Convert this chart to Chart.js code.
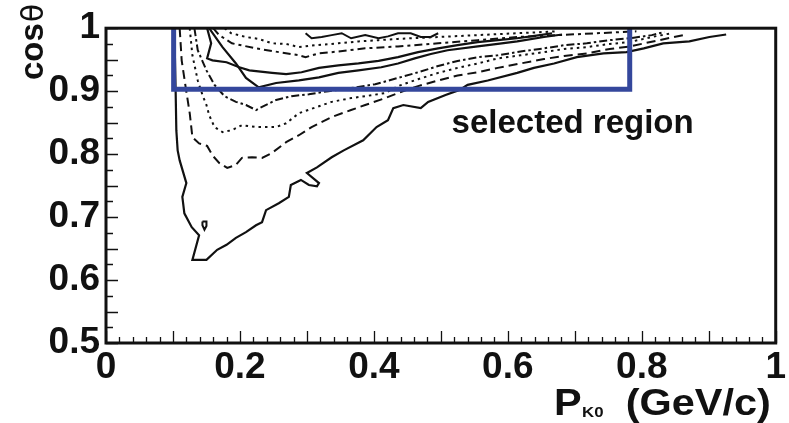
<!DOCTYPE html>
<html>
<head>
<meta charset="utf-8">
<script src="https://cdn.jsdelivr.net/npm/chart.js@4.4.0/dist/chart.umd.min.js"></script>
<style>
    html, body { margin: 0; padding: 0; background: #fff; }
    #wrap { width: 789px; height: 423px; }
</style>
</head>
<body>
<div id="wrap"><canvas id="contourChart" width="789" height="423"></canvas></div>
<script>
// axis ticks
const xTicks = [0, 0.2, 0.4, 0.6, 0.8, 1];
const yTicks = [0.5, 0.6, 0.7, 0.8, 0.9, 1];

// contour lines, [P (GeV/c), cos theta]
const outerSolid = [[0.102,1.000],[0.104,0.900],[0.105,0.838],[0.107,0.806],[0.110,0.790],[0.120,0.754],[0.114,0.732],[0.117,0.706],[0.128,0.684],[0.139,0.671],[0.129,0.632],[0.150,0.632],[0.166,0.648],[0.180,0.656],[0.194,0.667],[0.209,0.676],[0.224,0.687],[0.233,0.692],[0.239,0.711],[0.258,0.722],[0.273,0.732],[0.276,0.751],[0.291,0.759],[0.303,0.751],[0.315,0.749],[0.318,0.754],[0.300,0.770],[0.315,0.779],[0.337,0.795],[0.355,0.806],[0.384,0.822],[0.404,0.843],[0.421,0.854],[0.429,0.873],[0.444,0.878],[0.470,0.873],[0.481,0.883],[0.507,0.894],[0.528,0.902],[0.540,0.910],[0.570,0.917],[0.614,0.929],[0.639,0.937],[0.669,0.944],[0.703,0.954],[0.743,0.960],[0.777,0.962],[0.803,0.968],[0.832,0.976],[0.871,0.979],[0.901,0.986],[0.926,0.990]];
const islandSolid = [[0.144,0.693],[0.150,0.693],[0.150,0.686],[0.147,0.680],[0.144,0.687],[0.144,0.693]];
const dashed1 = [[0.110,1.000],[0.113,0.949],[0.119,0.906],[0.125,0.865],[0.129,0.827],[0.139,0.817],[0.151,0.813],[0.159,0.798],[0.169,0.786],[0.181,0.778],[0.194,0.783],[0.203,0.794],[0.218,0.795],[0.233,0.794],[0.248,0.802],[0.269,0.819],[0.288,0.830],[0.307,0.843],[0.337,0.859],[0.366,0.870],[0.387,0.878],[0.417,0.889],[0.436,0.897],[0.466,0.908],[0.496,0.917],[0.525,0.925],[0.555,0.930],[0.585,0.937],[0.619,0.944],[0.654,0.951],[0.684,0.956],[0.718,0.960],[0.752,0.967],[0.782,0.971],[0.826,0.981],[0.866,0.990]];
const dotted1 = [[0.125,1.000],[0.129,0.957],[0.137,0.917],[0.144,0.894],[0.150,0.878],[0.154,0.862],[0.162,0.843],[0.174,0.835],[0.188,0.838],[0.203,0.846],[0.224,0.843],[0.239,0.843],[0.254,0.843],[0.269,0.849],[0.288,0.865],[0.318,0.876],[0.337,0.883],[0.366,0.889],[0.387,0.892],[0.417,0.897],[0.436,0.908],[0.466,0.919],[0.496,0.929],[0.525,0.937],[0.555,0.944],[0.585,0.952],[0.619,0.957],[0.654,0.962],[0.684,0.967],[0.718,0.970],[0.752,0.975],[0.782,0.978],[0.815,0.986],[0.844,0.992]];
const dashDot1 = [[0.132,1.000],[0.137,0.965],[0.150,0.933],[0.162,0.910],[0.177,0.892],[0.194,0.883],[0.209,0.878],[0.224,0.870],[0.233,0.875],[0.254,0.886],[0.277,0.892],[0.303,0.895],[0.332,0.900],[0.366,0.905],[0.402,0.911],[0.436,0.921],[0.466,0.930],[0.496,0.940],[0.525,0.948],[0.555,0.954],[0.585,0.957],[0.619,0.963],[0.654,0.968],[0.684,0.973],[0.718,0.976],[0.752,0.981],[0.782,0.984],[0.815,0.989],[0.834,0.994]];
const solid2 = [[0.154,1.000],[0.174,0.970],[0.194,0.944],[0.209,0.921],[0.228,0.906],[0.254,0.913],[0.288,0.917],[0.318,0.922],[0.347,0.929],[0.377,0.933],[0.411,0.938],[0.436,0.944],[0.461,0.952],[0.485,0.959],[0.510,0.965],[0.555,0.971],[0.585,0.975],[0.614,0.979],[0.654,0.986],[0.681,0.990]];
const solid3 = [[0.151,1.000],[0.157,0.976],[0.151,0.952],[0.159,0.949],[0.180,0.946],[0.199,0.938],[0.214,0.933],[0.248,0.929],[0.269,0.927],[0.292,0.930],[0.318,0.937],[0.347,0.941],[0.377,0.944],[0.407,0.948],[0.436,0.954],[0.466,0.962],[0.496,0.968],[0.525,0.973],[0.555,0.978],[0.585,0.981],[0.614,0.984],[0.648,0.989],[0.666,0.992]];
const dashed2 = [[0.160,1.000],[0.169,0.989],[0.188,0.976],[0.224,0.968],[0.258,0.962],[0.288,0.957],[0.298,0.954],[0.318,0.960],[0.347,0.963],[0.387,0.968],[0.436,0.971],[0.496,0.976],[0.555,0.981],[0.614,0.986],[0.674,0.989],[0.733,0.992],[0.792,0.995]];
const dotted2 = [[0.177,1.000],[0.187,0.992],[0.209,0.986],[0.228,0.983],[0.248,0.976],[0.269,0.975],[0.288,0.970],[0.313,0.973],[0.347,0.976],[0.377,0.979],[0.407,0.981],[0.436,0.983],[0.496,0.986],[0.555,0.989],[0.614,0.992],[0.674,0.995]];
const topSolid = [[0.298,0.992],[0.307,0.984],[0.322,0.986],[0.337,0.989],[0.352,0.992],[0.366,0.984],[0.387,0.989],[0.407,0.984],[0.421,0.987],[0.436,0.992],[0.455,0.992],[0.470,0.986],[0.485,0.986],[0.496,0.992]];

// selected region box
const boxX = [0.101, 0.101, 0.782, 0.782];
const boxY = [1.0, 0.903, 0.903, 1.0];

const ink = '#111';
const font = 'Liberation Sans, Arial, Helvetica, sans-serif';

function contour(pts, dash, width) {
    return {
        data: pts.map(p => ({x: p[0], y: p[1]})),
        borderColor: ink,
        borderWidth: width || 2,
        borderDash: dash,
        showLine: true,
        pointRadius: 0,
        tension: 0,
        fill: false,
        order: 2
    };
}

// frame, inner ticks, titles and the label
const decorations = {
    id: 'decorations',
    afterDatasetsDraw(chart) {
        const ctx = chart.ctx;
        const a = chart.chartArea;
        const xs = chart.scales.x, ys = chart.scales.y;
        ctx.save();
        ctx.strokeStyle = ink;
        ctx.lineWidth = 1.3;
        ctx.beginPath();
        for (let i = 0; i <= 50; i++) {
            const px = Math.round(xs.getPixelForValue(i * 0.02)) + 0.5;
            const len = (i % 5 === 0) ? 12 : 6;
            ctx.moveTo(px, a.bottom);
            ctx.lineTo(px, a.bottom - len);
        }
        for (let i = 0; i <= 20; i++) {
            const py = Math.round(ys.getPixelForValue(0.5 + i * 0.025)) + 0.5;
            const len = (i % 2 === 0) ? 12 : 7;
            ctx.moveTo(a.left, py);
            ctx.lineTo(a.left + len, py);
        }
        ctx.stroke();

        ctx.lineWidth = 3;
        ctx.strokeRect(a.left, a.top, a.right - a.left, a.bottom - a.top);

        // selected region label
        ctx.fillStyle = ink;
        ctx.font = 'bold 33px ' + font;
        ctx.textAlign = 'left';
        ctx.textBaseline = 'alphabetic';
        ctx.fillText('selected region', xs.getPixelForValue(0.516), ys.getPixelForValue(0.833));

        // x title with subscript, glyphs a bit wider like the original
        ctx.save();
        ctx.translate(554, 415);
        ctx.scale(1.12, 1);
        ctx.font = 'bold 37px ' + font;
        ctx.fillText('P', 0, 0);
        ctx.font = 'bold 15px ' + font;
        ctx.fillText('K0', 25, 2);
        ctx.font = 'bold 37px ' + font;
        ctx.fillText('(GeV/c)', 64, 0);
        ctx.restore();

        // y title, rotated
        ctx.translate(43, 80);
        ctx.rotate(-Math.PI / 2);
        ctx.font = 'bold 33px ' + font;
        ctx.fillText('cos', 0, 0);
        const w = ctx.measureText('cos').width;
        ctx.font = '30px DejaVu Sans, sans-serif';
        ctx.fillText('\u03b8', w + 1, 0);
        ctx.restore();
    }
};

const ctx = document.getElementById('contourChart').getContext('2d');
new Chart(ctx, {
    type: 'scatter',
    data: {
        datasets: [
            {
                data: boxX.map((x, i) => ({x: x, y: boxY[i]})),
                borderColor: '#34479c',
                borderWidth: 5,
                showLine: true,
                pointRadius: 0,
                fill: false,
                order: 1
            },
            contour(outerSolid, [], 2.2),
            contour(islandSolid, [], 2),
            contour(dashed1, [9, 5]),
            contour(dotted1, [2.5, 4]),
            contour(dashDot1, [8, 3, 2.5, 3]),
            contour(solid2, [], 2.2),
            contour(solid3, [], 2.2),
            contour(dashed2, [8, 4, 3, 4]),
            contour(dotted2, [2.5, 4]),
            contour(topSolid, [], 2)
        ]
    },
    options: {
        responsive: false,
        devicePixelRatio: 1,
        animation: false,
        layout: { padding: { top: 28, right: 9, left: 0, bottom: 0 } },
        plugins: { legend: { display: false }, tooltip: { enabled: false } },
        scales: {
            x: {
                type: 'linear',
                min: 0, max: 1,
                afterBuildTicks: s => { s.ticks = xTicks.map(v => ({value: v})); },
                afterFit: s => { s.height = 80; },
                grid: { display: false, drawTicks: false },
                border: { display: false },
                ticks: {
                    padding: 3,
                    color: ink,
                    font: { family: font, size: 37, weight: 'bold' },
                    maxRotation: 0,
                    callback: v => String(v)
                }
            },
            y: {
                type: 'linear',
                min: 0.5, max: 1,
                afterBuildTicks: s => { s.ticks = yTicks.map(v => ({value: v})); },
                afterFit: s => { s.width = 106; },
                grid: { display: false, drawTicks: false },
                border: { display: false },
                ticks: {
                    padding: 6,
                    color: ink,
                    font: { family: font, size: 37, weight: 'bold' },
                    callback: v => String(v)
                }
            }
        }
    },
    plugins: [decorations]
});
</script>
</body>
</html>
